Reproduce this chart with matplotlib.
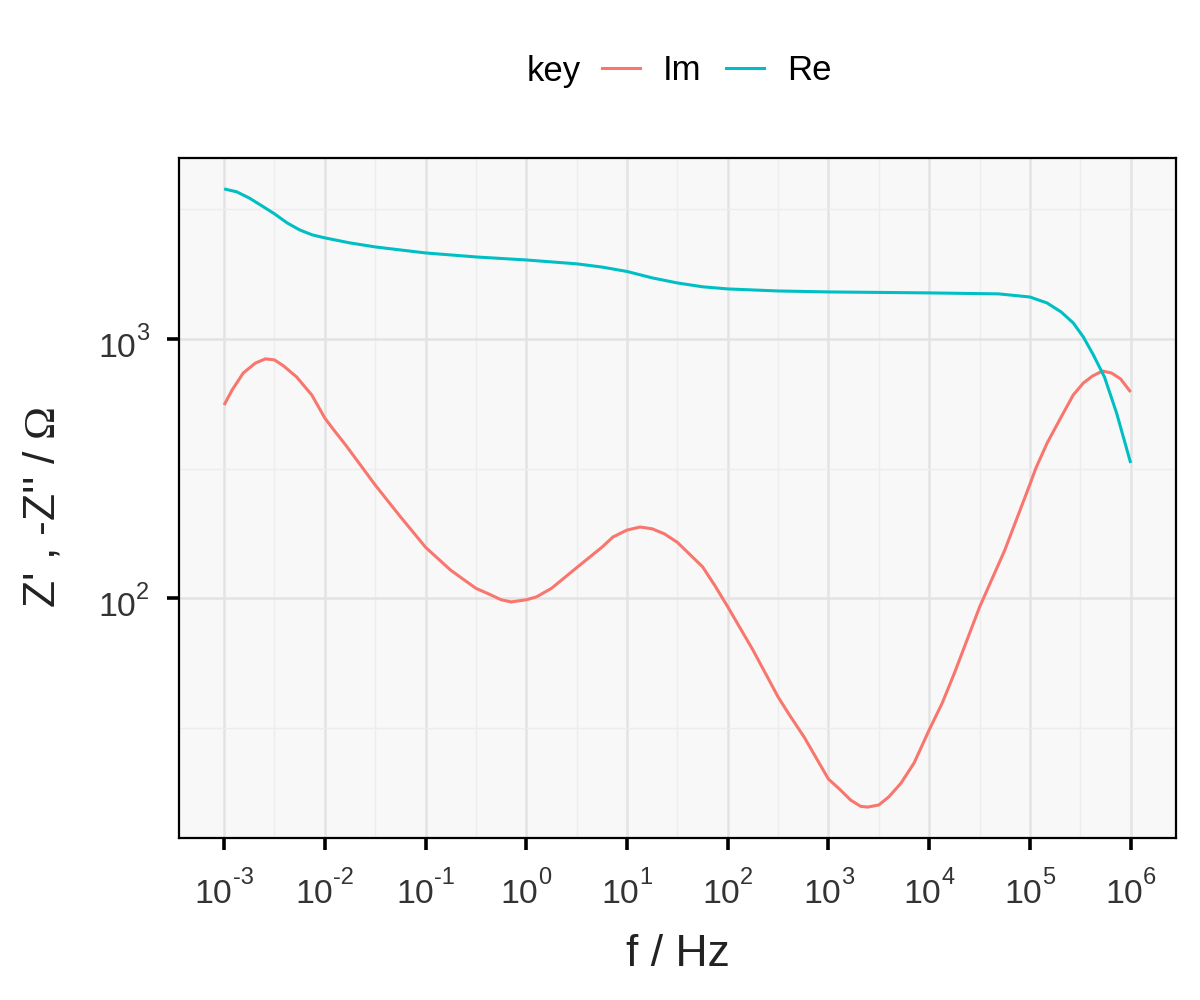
import numpy as np
import matplotlib
matplotlib.use("Agg")
import matplotlib.pyplot as plt
from matplotlib.ticker import FixedLocator, NullFormatter
from matplotlib.lines import Line2D

plt.rcParams['font.family'] = ['Liberation Sans', 'DejaVu Sans']
plt.rcParams['mathtext.fontset'] = 'custom'
plt.rcParams['mathtext.rm'] = 'Liberation Serif'

# log10 of frequency and the values
re_logf = [-3, -2.875, -2.75, -2.625, -2.5, -2.375, -2.25, -2.125, -2, -1.75, -1.5,
           -1.25, -1, -0.5, 0, 0.5, 0.75, 1, 1.25, 1.5, 1.75, 2, 2.5, 3, 4, 4.69,
           5, 5.17, 5.31, 5.43, 5.53, 5.63, 5.74, 5.86, 6]
re_vals = [3795, 3698, 3499, 3264, 3041, 2806, 2636, 2522, 2456, 2348, 2266,
           2206, 2148, 2073, 2018, 1950, 1895, 1822, 1721, 1645, 1590, 1560, 1532, 1519, 1506, 1493,
           1452, 1377, 1271, 1153, 1018, 867, 713, 518, 332]

im_logf = [-3, -2.92, -2.81, -2.69, -2.59, -2.5, -2.41, -2.28, -2.13, -2, -1.92, -1.79,
           -1.5, -1.25, -1, -0.75, -0.5, -0.38, -0.25, -0.15, 0, 0.1, 0.25, 0.5, 0.75,
           0.86, 1, 1.13, 1.25, 1.37, 1.5, 1.75, 1.87, 2, 2.25, 2.5, 2.61, 2.76, 2.89,
           3, 3.11, 3.22, 3.32, 3.39, 3.5, 3.6, 3.72, 3.85, 4, 4.13, 4.25, 4.5, 4.75,
           5, 5.06, 5.17, 5.31, 5.43, 5.53, 5.62, 5.72, 5.81, 5.9, 6]
im_vals = [556, 636, 739, 807, 838, 830, 787, 713, 608, 495, 450, 388,
           273, 206, 157, 128, 109, 104, 98.5, 96.6, 98.5, 101, 109, 131, 157,
           172, 183, 188, 185, 177, 164, 132, 112, 92.5, 63, 41.5, 35.5, 29, 23.7,
           20, 18.3, 16.6, 15.7, 15.6, 15.9, 17.1, 19.3, 23.1, 31, 39.4, 51.3, 92.3, 153,
           275, 318, 396, 500, 608, 676, 719, 752, 739, 701, 624]

x_exps = [-3, -2, -1, 0, 1, 2, 3, 4, 5, 6]
y_exps = [2, 3]

series = [("Im", im_logf, im_vals, "#F8766D"),
          ("Re", re_logf, re_vals, "#00BFC4")]

DPI = 200
fig = plt.figure(figsize=(6, 5), dpi=DPI)
ax = fig.add_axes([0.149, 0.162, 0.831, 0.680])
ax.set_facecolor("#F8F8F8")

for name, lf, v, col in series:
    f = 10.0 ** np.array(lf)
    ax.plot(f, v, color=col, lw=1.1, label=name, zorder=3,
            solid_joinstyle="round", solid_capstyle="butt")

ax.set_xscale("log")
ax.set_yscale("log")

# ggplot-like 5% expansion
all_lf = re_logf + im_logf
all_lv = np.log10(re_vals + im_vals)
xr = max(all_lf) - min(all_lf)
yr = all_lv.max() - all_lv.min()
ax.set_xlim(10 ** (min(all_lf) - 0.05 * xr), 10 ** (max(all_lf) + 0.05 * xr))
ax.set_ylim(10 ** (all_lv.min() - 0.05 * yr), 10 ** (all_lv.max() + 0.05 * yr))

ax.xaxis.set_major_locator(FixedLocator([10.0 ** e for e in x_exps]))
ax.xaxis.set_minor_locator(FixedLocator([10.0 ** (e + 0.5) for e in range(-4, 7)]))
ax.yaxis.set_major_locator(FixedLocator([10.0 ** e for e in y_exps]))
ax.yaxis.set_minor_locator(FixedLocator([10 ** 1.5, 10 ** 2.5, 10 ** 3.5]))
for a in (ax.xaxis, ax.yaxis):
    a.set_major_formatter(NullFormatter())
    a.set_minor_formatter(NullFormatter())

ax.grid(which="major", color="#E3E3E3", lw=0.9, zorder=0)
ax.grid(which="minor", color="#EDEDED", lw=0.5, zorder=0)
ax.set_axisbelow(True)

ax.tick_params(which="major", length=4.3, width=1.3, color="black")
ax.tick_params(which="minor", length=0)
for s in ax.spines.values():
    s.set_color("black")
    s.set_linewidth(0.8)

# tick labels like 10^-3 with a plain hyphen, built from two texts
renderer = fig.canvas.get_renderer()
BASE_FS, SUP_FS = 12.2, 8.5
lab_col = "#333333"


def px2pt(v):
    return v * 72.0 / DPI


for e in x_exps:
    kw = dict(xy=(10.0 ** e, 0), xycoords=("data", "axes fraction"),
              textcoords="offset points", va="baseline", ha="left", color=lab_col)
    b = ax.annotate("10", xytext=(0, -23.4), fontsize=BASE_FS, **kw)
    s = ax.annotate(str(e), xytext=(0, -16.6), fontsize=SUP_FS, **kw)
    wb = px2pt(b.get_window_extent(renderer).width)
    ws = px2pt(s.get_window_extent(renderer).width)
    x0 = -(wb + ws) / 2
    b.set_position((x0, -23.4))
    s.set_position((x0 + wb, -16.6))

for e in y_exps:
    kw = dict(xy=(0, 10.0 ** e), xycoords=("axes fraction", "data"),
              textcoords="offset points", va="baseline", color=lab_col)
    s = ax.annotate(str(e), xytext=(-10.8, -0.4), ha="right", fontsize=SUP_FS, **kw)
    ws = px2pt(s.get_window_extent(renderer).width)
    ax.annotate("10", xytext=(-10.8 - ws, -6.5), ha="right", fontsize=BASE_FS, **kw)

fig.text(0.5646, 0.045, "f / Hz", fontsize=16, color="#222222", ha="center", va="center")
fig.text(0.036, 0.493, "Z' , -Z'' / $\\Omega$", fontsize=16, color="#222222",
         rotation=90, ha="center", va="center")

handles = [Line2D([], [], color=c, lw=1.1) for _, _, _, c in series]
labels = [n for n, _, _, _ in series]
fig.text(0.439, 0.929, "key", fontsize=12.5, ha="left", va="center")
fig.legend(handles, labels, loc="center", bbox_to_anchor=(0.597, 0.929),
           ncol=2, frameon=False, fontsize=12.5, handlelength=1.1,
           handletextpad=0.66, columnspacing=0.7)

fig.savefig("out.png", dpi=DPI)
